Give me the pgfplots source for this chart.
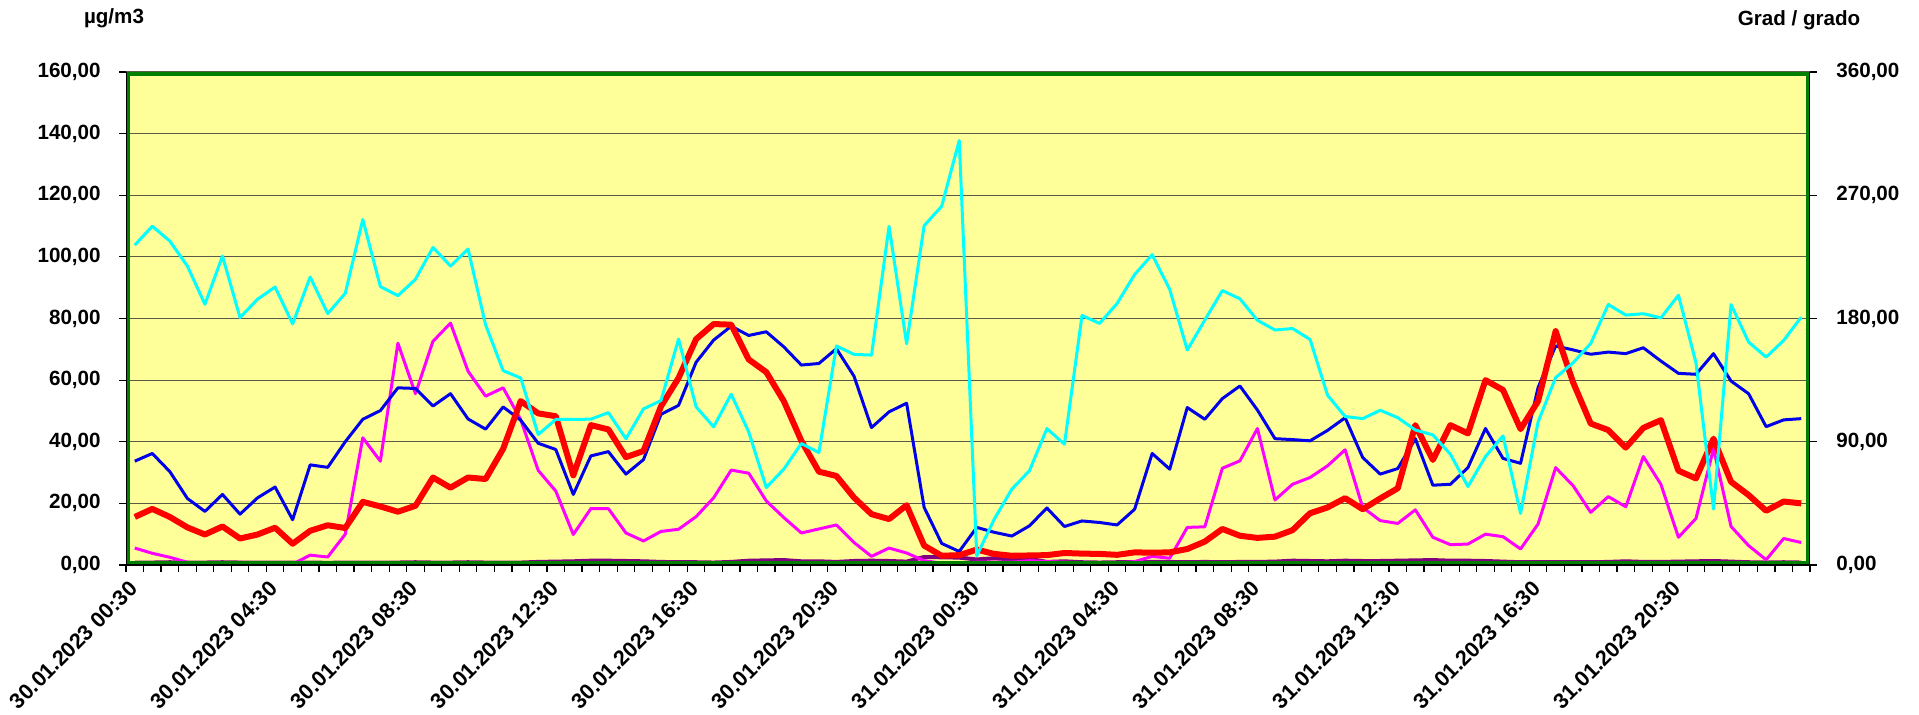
\documentclass[border=0pt]{standalone}
\usepackage{fontspec}
\setmainfont{Liberation Sans}
\usepackage{pgfplots}
\usepackage{pgfplotstable}
\pgfplotsset{compat=1.18}
\definecolor{bgyellow}{RGB}{255,255,153}
\definecolor{frameg}{RGB}{0,128,0}
\definecolor{gridc}{RGB}{90,90,70}
\definecolor{cyanl}{RGB}{0,255,255}
\definecolor{bluel}{RGB}{0,0,235}
\definecolor{redl}{RGB}{255,0,0}
\definecolor{magl}{RGB}{255,0,255}
\definecolor{purl}{RGB}{128,0,128}
\newcommand{\lblfont}{\fontsize{10.3}{12}\selectfont\bfseries}
\newcommand{\xlblfont}{\fontsize{10.8}{12}\selectfont\bfseries}
\pgfplotstableread{
i blue red mag cyan pur
0 33.7 15.6 5.5 233.6 0.8
1 36.2 18.2 3.8 247.4 0.8
2 30.3 15.6 2.5 236.5 0.9
3 21.6 12.2 0.9 218.3 0.8
4 17.4 9.9 0.3 190.4 0.8
5 22.9 12.5 0.5 225.6 0.9
6 16.5 8.6 0.9 180.7 0.8
7 21.8 9.9 0.3 194.1 0.8
8 25.3 12.1 0.3 203.0 0.8
9 14.7 6.9 0.3 176.1 0.8
10 32.5 11.1 3.2 210.3 0.8
11 31.7 12.9 2.6 183.6 0.7
12 40.0 12.0 10.0 198.4 0.8
13 47.3 20.5 41.3 252.3 0.8
14 50.1 19.0 33.7 203.3 0.8
15 57.5 17.3 72.0 196.7 0.8
16 57.3 19.2 55.6 208.6 0.9
17 51.6 28.4 72.6 231.9 0.8
18 55.6 25.1 78.5 218.3 0.8
19 47.4 28.4 62.9 230.7 0.9
20 44.1 27.9 54.8 175.4 0.8
21 51.3 37.7 57.5 141.9 0.8
22 47.0 53.2 47.2 136.6 0.8
23 39.5 49.2 30.7 95.3 1.0
24 37.5 48.3 24.0 106.3 1.1
25 22.9 29.1 9.9 106.3 1.2
26 35.4 45.4 18.3 106.5 1.4
27 36.8 44.0 18.3 111.3 1.4
28 29.5 35.0 10.4 92.2 1.3
29 34.2 37.0 7.8 114.0 1.2
30 48.9 51.5 10.9 120.1 1.0
31 51.8 60.7 11.6 165.0 0.9
32 65.8 73.3 15.7 115.5 0.9
33 73.0 78.2 21.8 100.9 0.8
34 77.5 78.0 30.8 124.7 1.0
35 74.5 66.7 29.8 97.2 1.4
36 75.7 62.6 20.8 56.6 1.5
37 70.8 53.2 15.4 70.0 1.6
38 64.9 40.3 10.4 88.7 1.2
39 65.4 30.3 11.7 82.1 1.2
40 70.2 28.9 13.0 159.9 1.0
41 61.3 21.9 7.3 153.8 1.3
42 44.6 16.5 2.8 153.3 1.4
43 49.7 14.9 5.5 247.3 1.3
44 52.5 19.4 3.9 161.6 1.1
45 18.7 6.3 1.4 247.8 2.6
46 7.0 3.0 0.6 262.0 2.5
47 4.4 3.2 0.6 310.0 2.4
48 12.2 5.0 0.9 6.8 1.8
49 10.6 3.6 0.9 33.5 2.2
50 9.4 3.0 0.9 55.4 1.8
51 12.7 3.1 1.4 68.8 2.0
52 18.5 3.2 1.1 99.6 1.0
53 12.5 3.9 0.9 88.2 1.2
54 14.3 3.7 0.6 182.2 0.9
55 13.8 3.6 0.5 176.4 0.8
56 13.0 3.3 0.6 191.0 0.9
57 18.1 4.1 1.1 212.1 0.9
58 36.2 4.0 2.8 226.6 1.0
59 31.1 4.1 2.2 201.2 1.0
60 51.1 5.2 12.2 157.0 0.9
61 47.3 7.6 12.4 178.8 1.0
62 54.0 11.7 31.4 200.4 0.9
63 58.1 9.5 33.8 194.4 1.0
64 50.3 8.8 44.3 178.7 1.0
65 41.0 9.2 21.1 171.6 1.1
66 40.7 11.3 26.2 172.7 1.4
67 40.3 16.8 28.4 164.7 1.3
68 43.7 18.7 32.2 123.9 1.2
69 47.8 21.7 37.4 108.4 1.4
70 34.9 18.1 18.7 106.9 1.3
71 29.5 21.6 14.4 113.0 1.3
72 31.3 24.9 13.5 107.6 1.4
73 41.0 45.4 17.9 98.6 1.5
74 25.9 34.1 9.0 95.0 1.6
75 26.2 45.4 6.6 80.9 1.4
76 31.6 42.7 6.8 57.3 1.4
77 44.3 60.0 10.0 79.2 1.3
78 34.6 56.8 9.2 94.3 1.1
79 33.0 44.1 5.2 37.7 0.9
80 57.6 53.2 13.3 104.5 0.9
81 71.1 75.9 31.6 136.8 0.9
82 69.8 59.2 25.7 147.7 0.9
83 68.4 45.9 17.1 161.8 0.9
84 69.1 43.8 22.2 190.2 1.0
85 68.6 38.1 18.9 182.5 1.2
86 70.5 44.5 35.2 183.5 1.0
87 66.2 47.0 26.2 180.5 1.0
88 62.2 30.6 9.0 197.0 1.1
89 61.9 28.1 15.1 147.7 1.2
90 68.6 41.0 37.8 40.8 1.3
91 59.7 27.0 12.5 190.2 1.1
92 55.6 22.7 6.3 162.8 0.9
93 44.9 17.6 1.7 151.8 0.8
94 47.1 20.6 8.6 164.0 0.9
95 47.5 20.0 7.3 181.0 0.8
}\data
\begin{document}
\begin{tikzpicture}
\useasboundingbox (0,0) rectangle (959.5pt,357pt);
\begin{axis}[
  at={(63pt,74.5pt)}, anchor=south west,
  width=842pt, height=246.5pt, scale only axis,
  xmin=-0.5, xmax=95.5, ymin=0, ymax=160,
  axis background/.style={fill=bgyellow},
  axis line style={draw=none},
  ytick={0,20,...,160},
  ymajorgrids, grid style={gridc, line width=0.6pt},
  xtick={0,8,...,88},
  xticklabels={30.01.2023 00:30,30.01.2023 04:30,30.01.2023 08:30,30.01.2023 12:30,30.01.2023 16:30,30.01.2023 20:30,31.01.2023 00:30,31.01.2023 04:30,31.01.2023 08:30,31.01.2023 12:30,31.01.2023 16:30,31.01.2023 20:30},
  minor xtick={-0.5,0.5,...,95.5},
  xtick pos=bottom, ytick pos=left,
  every major x tick/.append style={draw=none},
  tick align=outside, major tick length=3.5pt, minor tick length=3.5pt,
  ytick style={black, line width=0.6pt},
  every minor x tick/.append style={black, line width=0.6pt},
  xticklabel style={font=\xlblfont, rotate=45, anchor=east, inner sep=0pt, xshift=-4.95pt, yshift=-4.1pt},
  yticklabel style={font=\lblfont, anchor=east, inner sep=0pt, xshift=-9pt},
  /pgf/number format/fixed, /pgf/number format/fixed zerofill,
  /pgf/number format/precision=2, /pgf/number format/use comma,
  /pgf/number format/1000 sep={}, /pgf/number format/assume math mode=true,
  line join=round,
]
\addplot[purl, line width=2pt] table[x=i,y=pur]{\data};
\addplot[magl, line width=1.5pt] table[x=i,y=mag]{\data};
\addplot[bluel, line width=1.5pt] table[x=i,y=blue]{\data};
\addplot[redl, line width=3pt] table[x=i,y=red]{\data};
\draw[frameg, line width=3.8pt] (rel axis cs:0,0) rectangle (rel axis cs:1,1);
\draw[black, line width=0.8pt] (rel axis cs:0,1) -- (rel axis cs:0,0) -- (rel axis cs:1,0) -- (rel axis cs:1,1);
\end{axis}
\begin{axis}[
  at={(63pt,74.5pt)}, anchor=south west,
  width=842pt, height=246.5pt, scale only axis,
  xmin=-0.5, xmax=95.5, ymin=0, ymax=360,
  hide x axis, axis y line*=right, axis line style={draw=none},
  ytick={0,90,...,360},
  tick align=outside, major tick length=3.5pt,
  ytick style={black, line width=0.6pt},
  yticklabel style={font=\lblfont, anchor=west, inner sep=0pt, xshift=9.5pt},
  /pgf/number format/fixed, /pgf/number format/fixed zerofill,
  /pgf/number format/precision=2, /pgf/number format/use comma,
  /pgf/number format/1000 sep={}, /pgf/number format/assume math mode=true,
  line join=round,
]
\addplot[cyanl, line width=1.5pt] table[x=i,y=cyan]{\data};
\end{axis}
\node[font=\lblfont] at (57pt,348pt) {µg/m3};
\node[font=\lblfont] at (899.5pt,347pt) {Grad / grado};
\end{tikzpicture}
\end{document}
